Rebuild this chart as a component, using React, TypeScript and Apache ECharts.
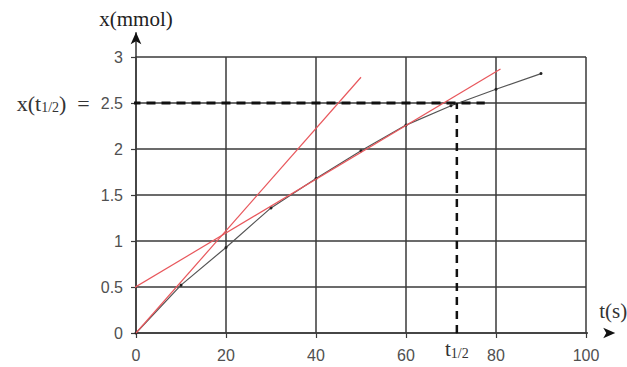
import React, { useEffect, useRef } from "react";
import * as echarts from "echarts";

// measured points x(t)
const times = [0, 10, 20, 30, 40, 50, 60, 70, 80, 90];
const amounts = [0, 0.52, 0.93, 1.36, 1.68, 1.98, 2.26, 2.47, 2.65, 2.82];

// tangent lines (red)
const tangentOrigin = [[0, 0], [50, 2.78]];
const tangentMid = [[-2.5, 0.43], [81, 2.87]];

// half-life construction
const halfLife = 71.3;
const halfValue = 2.5;
const dashStartX = -1;
const dashEndX = 77.5;

// axis ticks
const xTicks = [0, 20, 40, 60, 80, 100];
const yTicks = [0, 0.5, 1, 1.5, 2, 2.5, 3];
const xMax = 100;
const yMax = 3;
const xArrowEnd = 106.5;
const yArrowEnd = 3.27;

const serif = "'Liberation Serif', 'DejaVu Serif', serif";
const sans = "'Liberation Sans', Arial, sans-serif";

export default function App() {
  const ref = useRef<HTMLDivElement>(null);
  useEffect(() => {
    const chart = echarts.init(ref.current!, null, { renderer: "svg" });
    const gridColor = "#3a3a3a";
    chart.setOption({
      animation: false,
      backgroundColor: "#ffffff",
      grid: { left: 136, right: 41, top: 57, bottom: 34 },
      xAxis: {
        type: "value",
        min: xTicks[0],
        max: xMax,
        interval: 20,
        axisLine: { show: true, lineStyle: { color: gridColor, width: 1.5 } },
        axisTick: { show: true, length: 5, lineStyle: { color: gridColor, width: 1.2 } },
        splitLine: { show: true, lineStyle: { color: gridColor, width: 1.5 } },
        axisLabel: { color: "#505050", fontFamily: sans, fontSize: 16, margin: 14 },
      },
      yAxis: {
        type: "value",
        min: yTicks[0],
        max: yMax,
        interval: 0.5,
        name: "x(mmol)",
        nameLocation: "end",
        nameGap: 28,
        nameTextStyle: { fontFamily: serif, fontSize: 21, color: "#222", align: "center" },
        axisLine: { show: true, lineStyle: { color: gridColor, width: 1.5 } },
        axisTick: { show: true, length: 5, lineStyle: { color: gridColor, width: 1.2 } },
        splitLine: { show: true, lineStyle: { color: gridColor, width: 1.5 } },
        axisLabel: {
          color: "#505050",
          fontFamily: sans,
          fontSize: 16,
          margin: 13,
          formatter: (v: number) =>
            v === halfValue ? "{s|x(t}{sub|1/2}{s|)  =  }{n|2.5}" : String(v),
          rich: {
            s: { fontFamily: serif, fontSize: 22, color: "#333" },
            sub: { fontFamily: serif, fontSize: 14, color: "#333", verticalAlign: "bottom", padding: [9, 0, 0, 0] },
            n: { fontFamily: sans, fontSize: 16, color: "#505050" },
          },
        },
      },
      series: [
        {
          name: "measured",
          type: "line",
          data: times.map((t, i) => [t, amounts[i]]),
          symbol: "circle",
          symbolSize: 3,
          itemStyle: { color: "#222" },
          lineStyle: { color: "#555", width: 1.2 },
          z: 3,
        },
        {
          name: "tangent0",
          type: "line",
          data: tangentOrigin,
          symbol: "none",
          clip: false,
          lineStyle: { color: "#e8575c", width: 1.2 },
          z: 4,
        },
        {
          name: "tangentMid",
          type: "line",
          data: tangentMid,
          symbol: "none",
          clip: false,
          lineStyle: { color: "#e8575c", width: 1.2 },
          z: 4,
        },
        {
          name: "halfH",
          type: "line",
          data: [[dashStartX, halfValue], [dashEndX, halfValue]],
          symbol: "none",
          clip: false,
          lineStyle: { color: "#111", width: 3, type: [9, 6] },
          z: 5,
        },
        {
          name: "halfV",
          type: "line",
          clip: false,
          data: [
            {
              value: [halfLife, 0],
              symbol: "circle",
              symbolSize: 1,
              label: {
                show: true,
                position: "bottom",
                distance: 4,
                formatter: "{t|t}{sub|1/2}",
                rich: {
                  t: { fontFamily: serif, fontSize: 21, color: "#333" },
                  sub: { fontFamily: serif, fontSize: 14, color: "#333", verticalAlign: "bottom", padding: [9, 0, 0, 0] },
                },
              },
            },
            { value: [halfLife, halfValue], symbol: "none" },
          ],
          itemStyle: { color: "#111" },
          lineStyle: { color: "#111", width: 2.5, type: [8, 6] },
          z: 5,
        },
        {
          name: "xArrow",
          type: "line",
          clip: false,
          data: [
            { value: [xMax, 0], symbol: "none" },
            {
              value: [xArrowEnd, 0],
              symbol: "arrow",
              symbolSize: [8, 12],
              symbolRotate: -90,
              label: {
                show: true,
                position: "top",
                distance: 6,
                offset: [4, 0],
                formatter: "t(s)",
                fontFamily: serif,
                fontSize: 21,
                color: "#333",
              },
            },
          ],
          itemStyle: { color: "#111" },
          lineStyle: { color: "#333", width: 1.5 },
          z: 2,
        },
        {
          name: "yArrow",
          type: "line",
          clip: false,
          data: [
            { value: [0, yMax], symbol: "none" },
            { value: [0, yArrowEnd], symbol: "arrow", symbolSize: [8, 12], symbolRotate: 0 },
          ],
          itemStyle: { color: "#111" },
          lineStyle: { color: "#333", width: 1.5 },
          z: 2,
        },
      ],
    });
    return () => chart.dispose();
  }, []);
  return (
    <div
      ref={ref}
      style={{ position: "fixed", left: 0, top: 0, width: 627, height: 367, background: "#fff" }}
    />
  );
}
